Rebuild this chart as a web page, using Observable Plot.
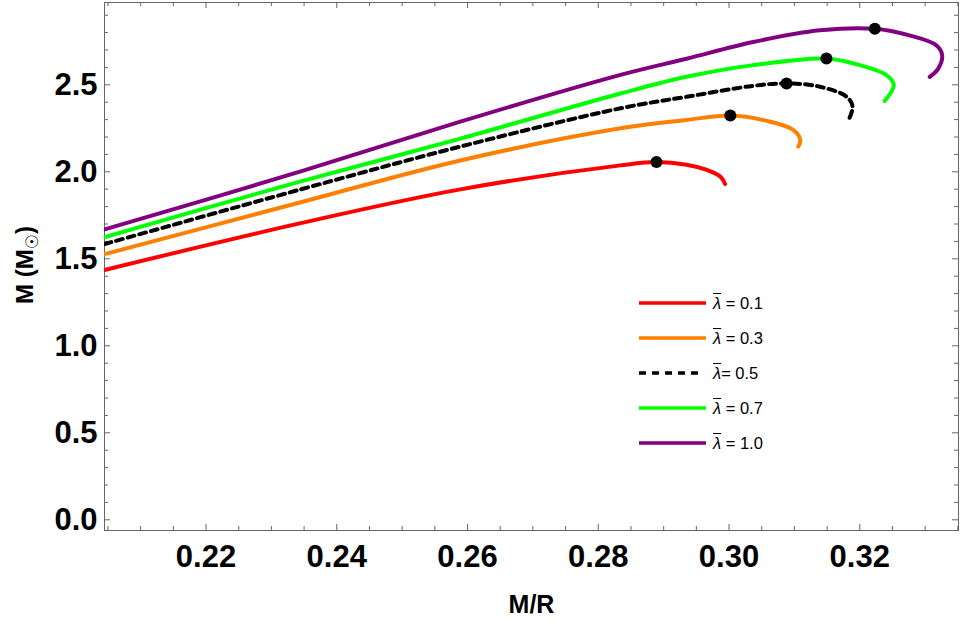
<!DOCTYPE html>
<html><head><meta charset="utf-8">
<script src="https://cdn.jsdelivr.net/npm/d3@7"></script>
<script src="https://cdn.jsdelivr.net/npm/@observablehq/plot@0.6"></script>
<style>
body{margin:0;background:#fff;}
#wrap{position:relative;width:960px;height:623px;font-family:"Liberation Sans",Arial,sans-serif;}
#legend{position:absolute;left:639px;top:293px;}
.row{display:flex;align-items:center;height:20px;margin-bottom:15px;}
.row svg{margin-right:7px;display:block}
.row span.t{font-size:16.5px;color:#000;white-space:pre}
.lam{font-style:italic;text-decoration:overline;}
</style></head><body><div id="wrap"></div>
<script>
// ---- data ----
const seriesNames = ["0.1", "0.3", "0.5", "0.7", "1.0"];
const legendTexts = [" = 0.1", " = 0.3", "= 0.5", " = 0.7", " = 1.0"];
const seriesColors = ["#ff0000", "#ff8000", "#000000", "#00ff00", "#800080"];

const redX = [0.2045, 0.2345, 0.2589, 0.2834, 0.2889, 0.2935, 0.2965, 0.2987, 0.2994];
const redY = [1.436, 1.705, 1.899, 2.037, 2.056, 2.041, 2.012, 1.971, 1.930];

const orangeX = [0.2045, 0.2345, 0.2589, 0.2834, 0.2935, 0.3002, 0.3063, 0.3098, 0.3109, 0.3106];
const orangeY = [1.527, 1.825, 2.065, 2.250, 2.298, 2.323, 2.288, 2.241, 2.184, 2.145];

const blackX = [0.2045, 0.2345, 0.2589, 0.2834, 0.2935, 0.3037, 0.3088, 0.3139, 0.3180, 0.3189, 0.3183];
const blackY = [1.585, 1.899, 2.145, 2.365, 2.431, 2.494, 2.508, 2.489, 2.431, 2.374, 2.298];

const greenX = [0.2045, 0.2345, 0.2589, 0.2834, 0.2935, 0.3037, 0.3149, 0.3200, 0.3241, 0.3252, 0.3238];
const greenY = [1.625, 1.945, 2.191, 2.450, 2.546, 2.613, 2.651, 2.613, 2.555, 2.498, 2.407];

const purpleX = [0.2045, 0.2345, 0.2589, 0.2834, 0.2935, 0.3037, 0.3139, 0.3223, 0.3276, 0.3317, 0.3326, 0.3320, 0.3307];
const purpleY = [1.669, 2.002, 2.288, 2.557, 2.650, 2.746, 2.813, 2.822, 2.784, 2.727, 2.670, 2.593, 2.546];

const dotX = [0.2889, 0.3002, 0.3088, 0.3149, 0.3223];
const dotY = [2.056, 2.323, 2.508, 2.651, 2.822];

const xTickValues = [0.22, 0.24, 0.26, 0.28, 0.30, 0.32];
const xTickLabels = ["0.22", "0.24", "0.26", "0.28", "0.30", "0.32"];
const yTickValues = [0.0, 0.5, 1.0, 1.5, 2.0, 2.5];
const yTickLabels = ["0.0", "0.5", "1.0", "1.5", "2.0", "2.5"];

// ---- build ----
const allX = [redX, orangeX, blackX, greenX, purpleX];
const allY = [redY, orangeY, blackY, greenY, purpleY];
const tables = allX.map((xs, i) => xs.map((x, j) => ({x, y: allY[i][j], s: seriesNames[i]})));
const dots = dotX.map((x, i) => ({x, y: dotY[i]}));

const W = 960, H = 623, mL = 104, mR = 2, mT = 2, mB = 93;
const plotW = W - mL - mR, plotH = H - mT - mB;
const xMinor = d3.range(41, 68).map(k => k * 0.005).filter(v => !xTickValues.some(t => Math.abs(t - v) < 1e-9));
const yMinor = d3.range(0, 30).map(k => k * 0.1).filter(v => !yTickValues.some(t => Math.abs(t - v) < 1e-9));
const gray = "#666";
const majLen = 6, minLen = 4;

const marks = [
  Plot.frame({stroke: gray}),
  Plot.ruleX(xTickValues, {stroke: gray, insetTop: plotH - majLen}),
  Plot.ruleX(xMinor, {stroke: gray, insetTop: plotH - minLen}),
  Plot.ruleX(xTickValues, {stroke: gray, insetBottom: plotH - majLen}),
  Plot.ruleX(xMinor, {stroke: gray, insetBottom: plotH - minLen}),
  Plot.ruleY(yTickValues, {stroke: gray, insetRight: plotW - majLen}),
  Plot.ruleY(yMinor, {stroke: gray, insetRight: plotW - minLen}),
  Plot.ruleY(yTickValues, {stroke: gray, insetLeft: plotW - majLen}),
  Plot.ruleY(yMinor, {stroke: gray, insetLeft: plotW - minLen}),
  Plot.axisX({anchor: "bottom", ticks: xTickValues, tickSize: 0, tickPadding: 14,
    tickFormat: (d) => xTickLabels[xTickValues.indexOf(d)], fontSize: 31, fontWeight: "bold", label: null}),
  Plot.axisY({anchor: "left", ticks: yTickValues, tickSize: 0, tickPadding: 7,
    tickFormat: (d) => yTickLabels[yTickValues.indexOf(d)], fontSize: 31, fontWeight: "bold", label: null}),
  ...tables.map((t, i) => Plot.line(t, {x: "x", y: "y", stroke: seriesColors[i], strokeWidth: 4,
    curve: "catmull-rom", clip: true, strokeDasharray: seriesNames[i] === "0.5" ? "7,5" : null})),
  Plot.dot(dots, {x: "x", y: "y", r: 6, fill: "#000"}),
  Plot.text(["M/R"], {frameAnchor: "bottom", dy: 74, lineAnchor: "middle", fontSize: 25, fontWeight: "bold", fill: "#000"})
];

const chart = Plot.plot({
  width: W, height: H,
  marginLeft: mL, marginRight: mR, marginTop: mT, marginBottom: mB,
  style: {fontFamily: '"Liberation Sans", Arial, sans-serif', color: "#000", background: "#fff"},
  x: {domain: [0.20447, 0.3351]},
  y: {domain: [-0.0615, 2.973]},
  marks
});
document.getElementById("wrap").appendChild(chart);

// y-axis label with subscript sun symbol
const svg = d3.select(chart);
const yl = svg.append("text")
  .attr("transform", "translate(24,265) rotate(-90)")
  .attr("text-anchor", "middle")
  .attr("dy", "0.36em")
  .attr("font-size", 24)
  .attr("font-weight", "bold")
  .attr("fill", "#000")
  .attr("font-family", '"Liberation Sans", Arial, sans-serif');
yl.append("tspan").text("M (M");
yl.append("tspan").attr("dy", 5).attr("font-size", 17).attr("font-family", '"DejaVu Sans", sans-serif').text("\u2609");
yl.append("tspan").attr("dy", -5).text(")");

// legend
const lg = document.createElement("div");
lg.id = "legend";
seriesNames.forEach((s, i) => {
  const row = document.createElement("div");
  row.className = "row";
  const dash = s === "0.5" ? ' stroke-dasharray="7,6"' : "";
  row.innerHTML = `<svg width="67" height="20"><line x1="0" x2="${s === "0.5" ? 62 : 67}" y1="10" y2="10" stroke="${seriesColors[i]}" stroke-width="3.3"${dash}/></svg>` +
    `<span class="t"><span class="lam">\u03bb</span>${legendTexts[i]}</span>`;
  lg.appendChild(row);
});
document.getElementById("wrap").appendChild(lg);
</script>
</body></html>
